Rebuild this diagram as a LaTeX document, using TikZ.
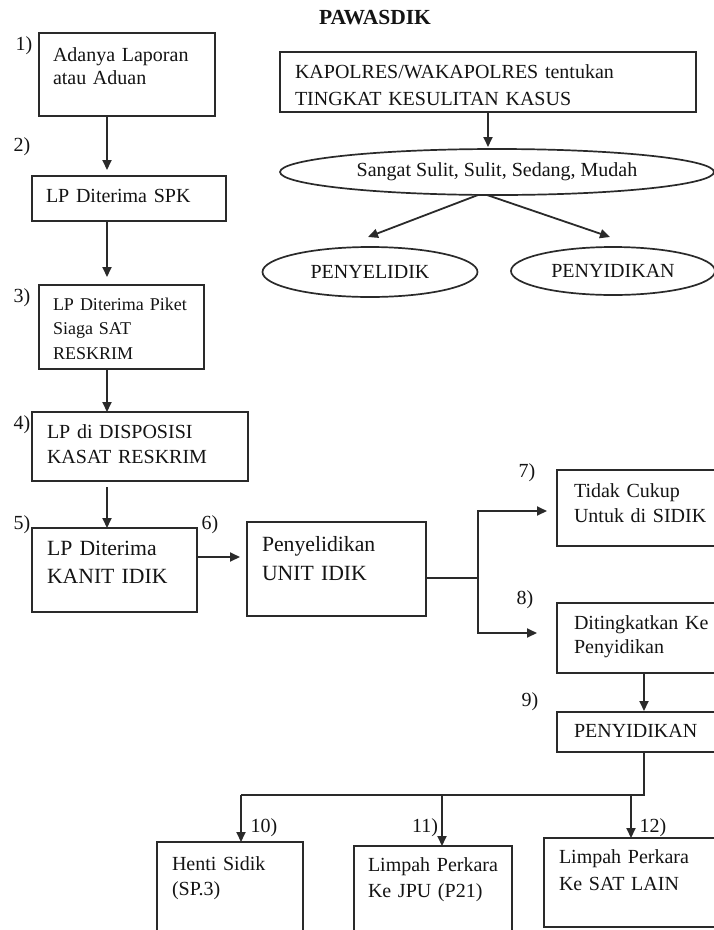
\documentclass[tikz,border=0pt]{standalone}
\usepackage{fontspec}
\setmainfont{Liberation Serif}
\usetikzlibrary{arrows.meta, shapes.geometric, calc}
\definecolor{garis}{HTML}{2A2A2A}
\definecolor{tinta}{HTML}{141414}

\begin{document}
\begin{tikzpicture}[x=1pt, y=-1pt,
  >={Triangle[length=10pt, width=9pt]},
  flowbox/.style={draw=garis, line width=1.8pt, anchor=north west,
    align=left, inner xsep=15pt, inner ysep=0pt, outer sep=0pt,
    text=tinta, font=\fontsize{20}{25}\selectfont},
  ovalbox/.style={ellipse, draw=garis, line width=1.7pt, inner sep=0pt,
    outer sep=0pt, text=tinta, font=\fontsize{20}{24}\selectfont},
  numlbl/.style={text=tinta, font=\fontsize{20}{24}\selectfont},
  arr/.style={->, line width=1.8pt, garis},
  link/.style={line width=1.8pt, garis},
]

% Background
\useasboundingbox (0,0) rectangle (714,930);
\fill[white] (0,0) rectangle (714,930);
\clip (0,0) rectangle (714,930);

% Title
\node[font=\fontsize{21.5}{24}\selectfont\bfseries, text=tinta] (judul) at (375,18)
  {PAWASDIK};

% ---- Left column ----
\node[flowbox, inner xsep=14pt, text width=148pt, text height=28pt, text depth=55pt,
  font=\fontsize{20}{23}\selectfont] (b1) at (39,33)
  {Adanya Laporan\\atau Aduan};

\node[flowbox, inner xsep=14pt, text width=166pt, text height=26pt, text depth=19pt]
  (b2) at (32,176)
  {LP Diterima SPK};

\node[flowbox, inner xsep=14pt, text width=137pt, text height=25pt, text depth=59pt,
  font=\fontsize{18}{24.5}\selectfont] (b3) at (39,285)
  {LP Diterima Piket\\Siaga SAT\\RESKRIM};

\node[flowbox, text width=186pt, text height=26pt, text depth=43pt]
  (b4) at (32,412)
  {LP di DISPOSISI\\KASAT RESKRIM};

\node[flowbox, text width=135pt, text height=27pt, text depth=57pt,
  font=\fontsize{21.7}{28}\selectfont] (b5) at (32,528)
  {LP Diterima\\KANIT IDIK};

\node[flowbox, text width=149pt, text height=29pt, text depth=65pt,
  font=\fontsize{21.7}{29}\selectfont] (b6) at (247,522)
  {Penyelidikan\\UNIT IDIK};

% ---- Right column ----
\node[flowbox, inner xsep=17pt, text width=140pt, text height=27pt, text depth=49pt]
  (b7) at (557,470)
  {Tidak Cukup\\Untuk di SIDIK};

\node[flowbox, inner xsep=17pt, text width=140pt, text height=26pt, text depth=44pt,
  font=\fontsize{20}{24}\selectfont] (b8) at (557,603)
  {Ditingkatkan Ke\\Penyidikan};

\node[flowbox, inner xsep=17pt, text width=140pt, text height=25pt, text depth=15pt]
  (b9) at (557,712)
  {PENYIDIKAN};

% ---- Bottom row ----
\node[flowbox, text width=116pt, text height=28pt, text depth=100pt]
  (b10) at (157,842)
  {Henti Sidik\\(SP.3)};

\node[flowbox, inner xsep=14pt, text width=130pt, text height=25pt, text depth=100pt,
  font=\fontsize{20}{26}\selectfont] (b11) at (354,846)
  {Limpah Perkara\\Ke JPU (P21)};

\node[flowbox, text width=150pt, text height=25pt, text depth=64pt,
  font=\fontsize{20}{27}\selectfont] (b12) at (544,838)
  {Limpah Perkara\\Ke SAT LAIN};

% ---- Pawasdik ----
\node[flowbox, text width=386pt, text height=26pt, text depth=34pt,
  font=\fontsize{20}{27}\selectfont] (kasus) at (280,52)
  {KAPOLRES/WAKAPOLRES tentukan\\TINGKAT KESULITAN KASUS};

\node[ovalbox, minimum width=434pt, minimum height=46pt] (e1) at (497,172)
  {Sangat Sulit, Sulit, Sedang, Mudah};
\node[ovalbox, minimum width=215pt, minimum height=50pt] (e2) at (370,272)
  {PENYELIDIK};
\node[ovalbox, minimum width=204pt, minimum height=48pt] (e3) at (613,271)
  {PENYIDIKAN};

% ---- Step numbers ----
\node[numlbl] (n1) at (24,46) {1)};
\node[numlbl] (n2) at (22,147) {2)};
\node[numlbl] (n3) at (22,298) {3)};
\node[numlbl] (n4) at (22,425) {4)};
\node[numlbl] (n5) at (22,525) {5)};
\node[numlbl] (n6) at (210,525) {6)};
\node[numlbl] (n7) at (527,473) {7)};
\node[numlbl] (n8) at (525,600) {8)};
\node[numlbl] (n9) at (530,702) {9)};
\node[numlbl] (n10) at (264,828) {10)};
\node[numlbl] (n11) at (425,828) {11)};
\node[numlbl] (n12) at (653,828) {12)};

% ---- Arrows ----
\coordinate (lcol) at (107,0);
\draw[arr, shorten >=6pt] (b1.south -| lcol) -- (b2.north -| lcol);
\draw[arr, shorten >=8pt] (b2.south -| lcol) -- (b3.north -| lcol);
\draw[arr] (b3.south -| lcol) -- (b4.north -| lcol);
\draw[arr, shorten <=6pt] (b4.south -| lcol) -- (b5.north -| lcol);
\draw[arr, shorten >=7pt] ([yshift=13pt]b5.east) -- ([yshift=13pt]b5.east -| b6.west);

\draw[arr, shorten >=2pt] (kasus.south) -- (kasus.south |- e1.north);
\draw[arr] ([xshift=-19pt]e1.south) -- ([xshift=-2pt, yshift=10pt]e2.north);
\draw[arr] ([xshift=-10pt]e1.south) -- ([xshift=-3pt, yshift=10pt]e3.north);

\coordinate (cabang) at (478,578);
\draw[link, line width=1.2pt] ([yshift=-9pt]b6.east) -- (cabang);
\draw[arr, shorten >=10pt] (cabang) |- ([yshift=-3pt]b7.west);
\draw[arr, shorten >=20pt] (cabang) |- ([yshift=5pt]b8.west);

\draw[arr, shorten >=1pt] (b8.south) -- (b9.north);

\coordinate (bawah) at (644,795);
\coordinate (d10) at (241,795);
\coordinate (d11) at (442,795);
\coordinate (d12) at (631,795);
\draw[link] (b9.south) -- (bawah) -- (d10);
\draw[arr] (d10) -- (d10 |- b10.north);
\draw[arr] (d11) -- (d11 |- b11.north);
\draw[arr] (d12) -- (d12 |- b12.north);

\end{tikzpicture}
\end{document}
